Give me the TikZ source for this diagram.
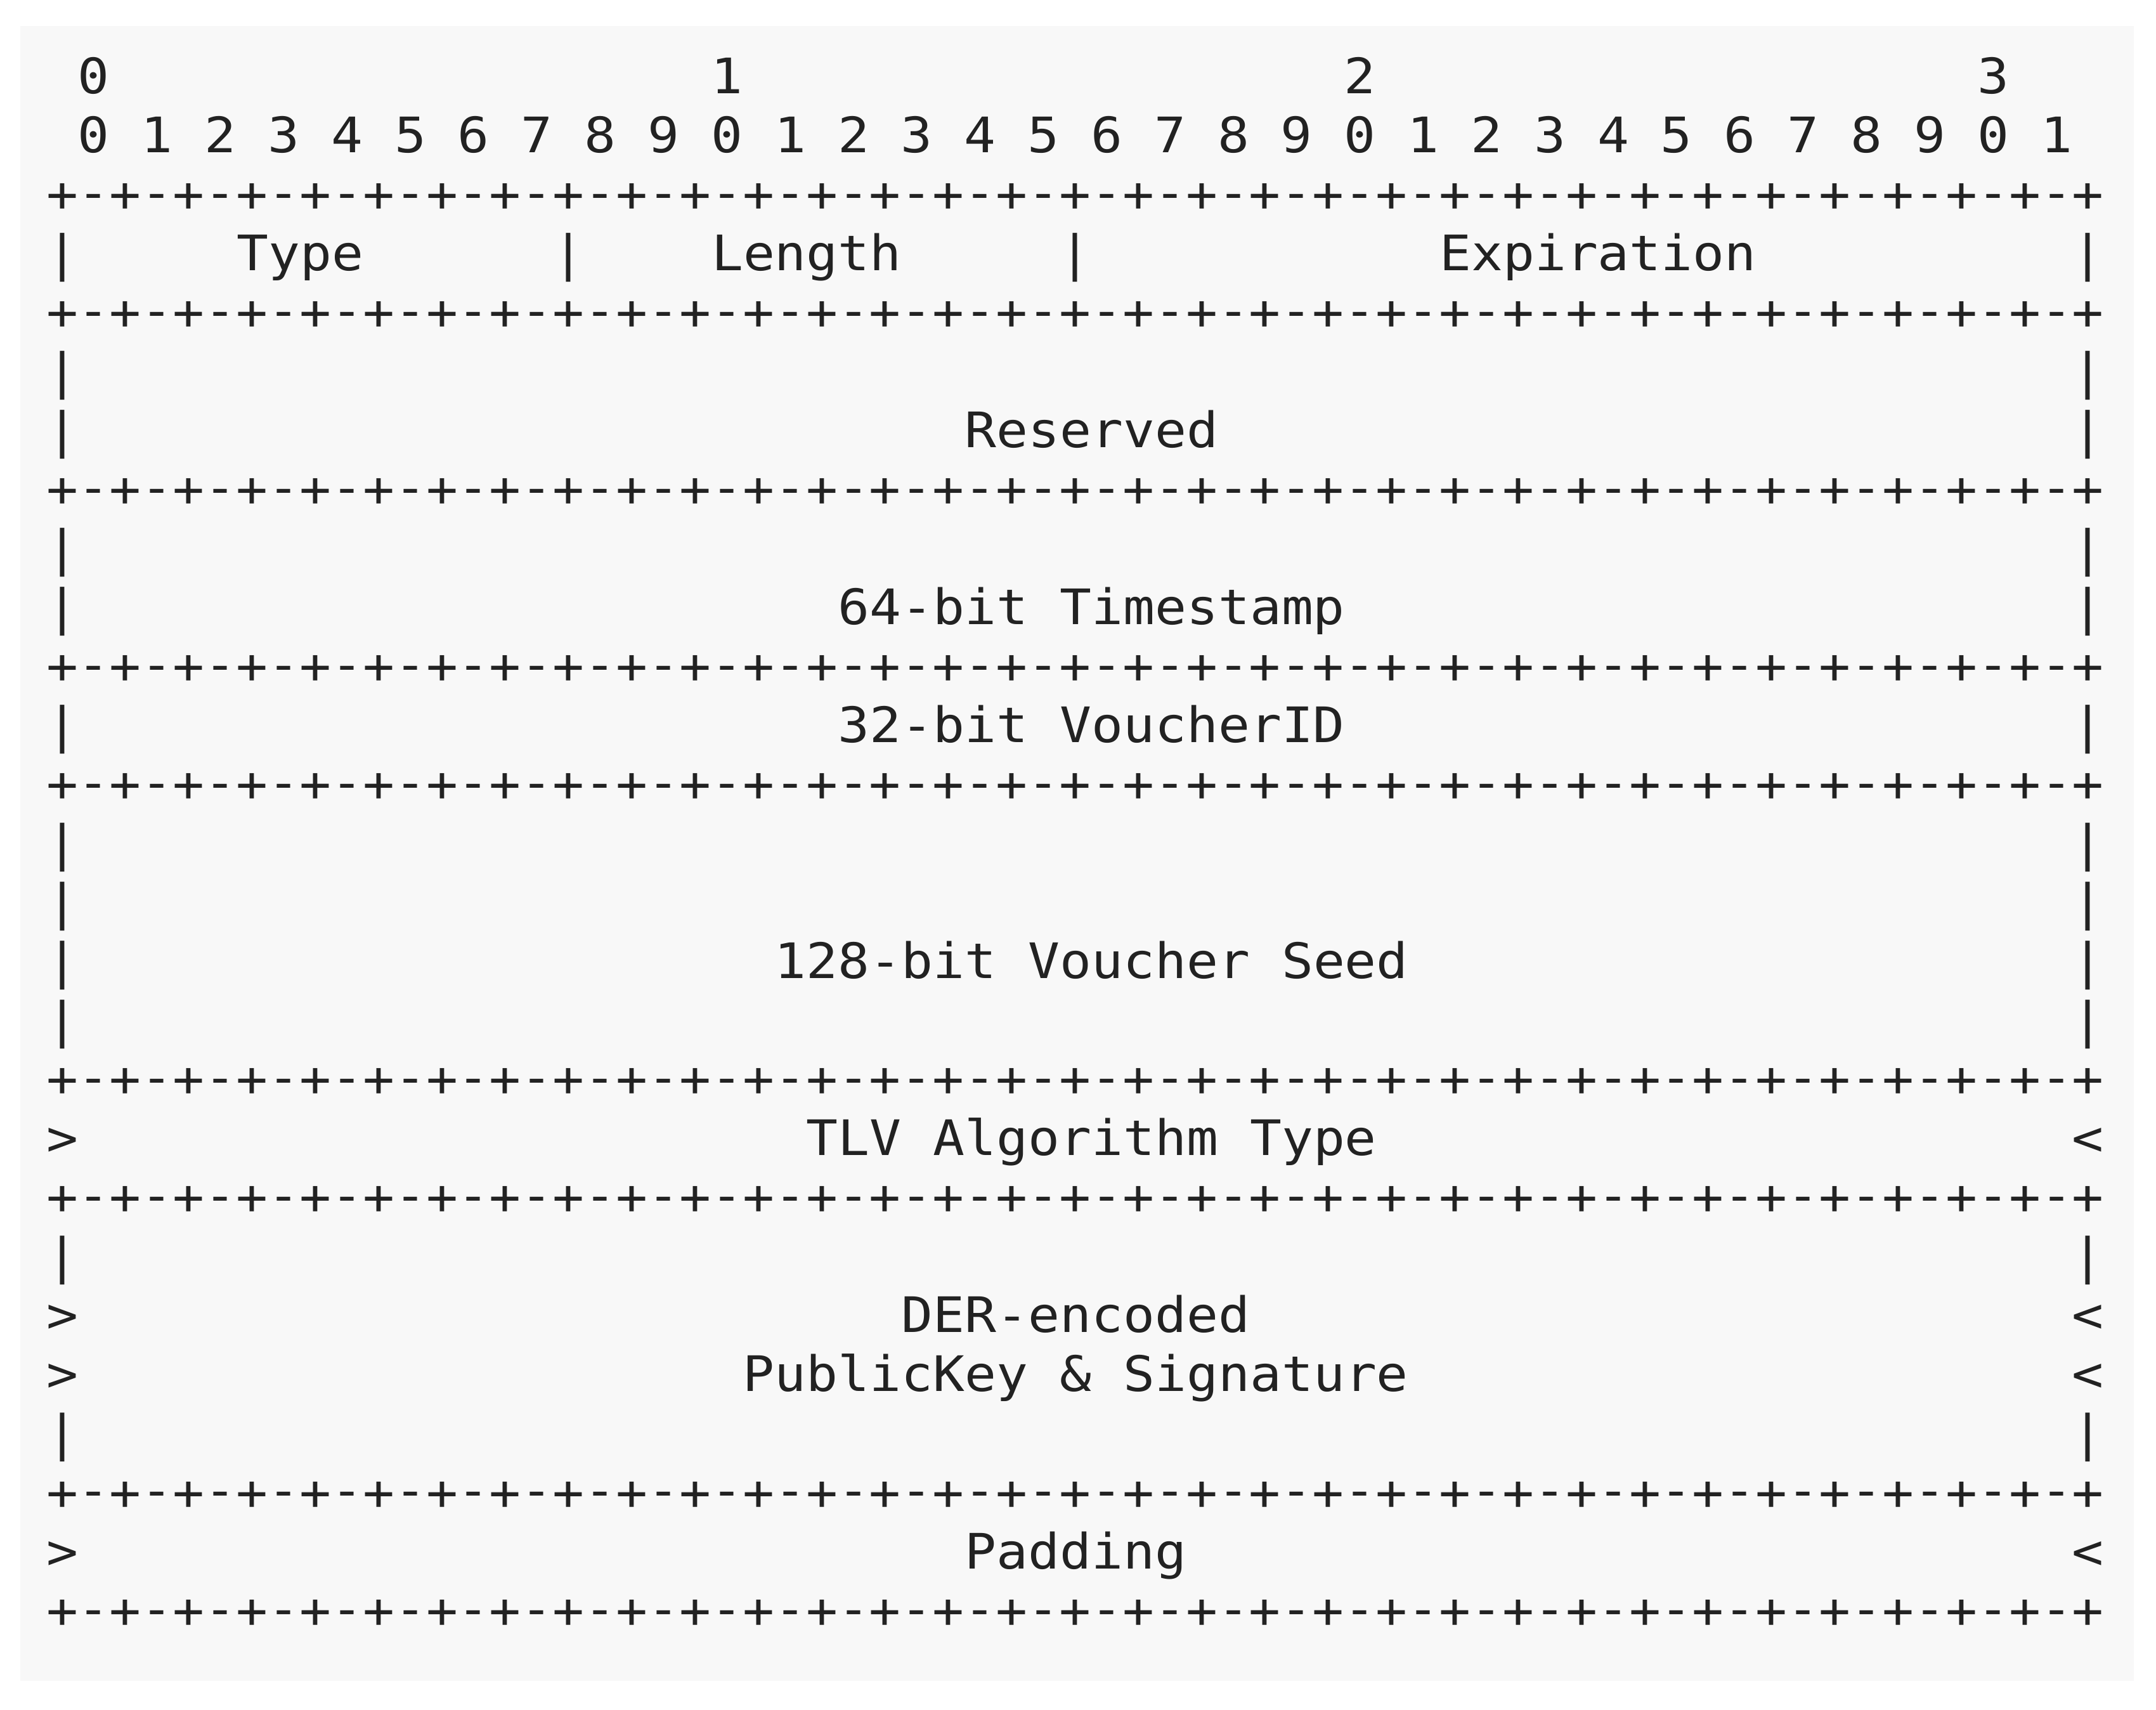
\documentclass[tikz,border=0pt]{standalone}
\usepackage{fontspec}
\newfontfamily\asciifont[FakeStretch=1.077]{DejaVu Sans Mono}
\definecolor{pagebg}{HTML}{F8F8F8}
\definecolor{ink}{HTML}{222222}
\newcommand{\asciisize}{\fontsize{21.92pt}{26pt}\selectfont}

\begin{document}
\begin{tikzpicture}[x=4.992mm, y=-9.304mm]
    \tikzstyle{every node}+=[inner sep=0pt, text=ink, font=\asciifont\asciisize]
    \tikzstyle{cell}=[anchor=base]
    \tikzstyle{fieldtext}=[anchor=base west]
    \useasboundingbox (-1.963,-0.580) rectangle (66.146,28.386);
    \fill [pagebg] (-1.322,-0.139) rectangle (65.445,27.903);
    % bit numbers
    \node [cell] (h0) at (1,1) {0};
    \node [cell] (h1) at (21,1) {1};
    \node [cell] (h2) at (41,1) {2};
    \node [cell] (h3) at (61,1) {3};
    \foreach \i in {0,...,31} {
        \pgfmathtruncatemacro\d{mod(\i,10)}
        \node [cell] (b\i) at (2*\i+1,2) {\d};
    }
    % +-+-+ rows
    \foreach \r in {3,5,8,11,13,18,20,25,27} {
        \foreach \c in {0,2,...,64}
            \node [cell] (p\r-\c) at (\c,\r) {+};
        \foreach \c in {1,3,...,63}
            \node [cell] (m\r-\c) at (\c,\r) {\raisebox{0.04em}{-}};
    }
    % side walls
    \foreach \r in {4,6,7,9,10,12,14,15,16,17,21,24} {
        \node [cell] (l\r) at (0,\r) {|};
        \node [cell] (r\r) at (64,\r) {|};
    }
    \foreach \r in {19,22,23,26} {
        \node [cell] (l\r) at (0,\r) {>};
        \node [cell] (r\r) at (64,\r) {<};
    }
    \node [cell] (w16) at (16,4) {|};
    \node [cell] (w32) at (32,4) {|};
    % field names
    \node [fieldtext] (type) at (5.5,4) {Type};
    \node [fieldtext] (length) at (20.5,4) {Length};
    \node [fieldtext] (expiration) at (43.5,4) {Expiration};
    \node [fieldtext] (reserved) at (28.5,7) {Reserved};
    \node [fieldtext] (timestamp) at (24.5,10) {64-bit Timestamp};
    \node [fieldtext] (voucherid) at (24.5,12) {32-bit VoucherID};
    \node [fieldtext] (seed) at (22.5,16) {128-bit Voucher Seed};
    \node [fieldtext] (tlv) at (23.5,19) {TLV Algorithm Type};
    \node [fieldtext] (der) at (26.5,22) {DER-encoded};
    \node [fieldtext] (pubkey) at (21.5,23) {PublicKey \& Signature};
    \node [fieldtext] (padding) at (28.5,26) {Padding};
\end{tikzpicture}
\end{document}
